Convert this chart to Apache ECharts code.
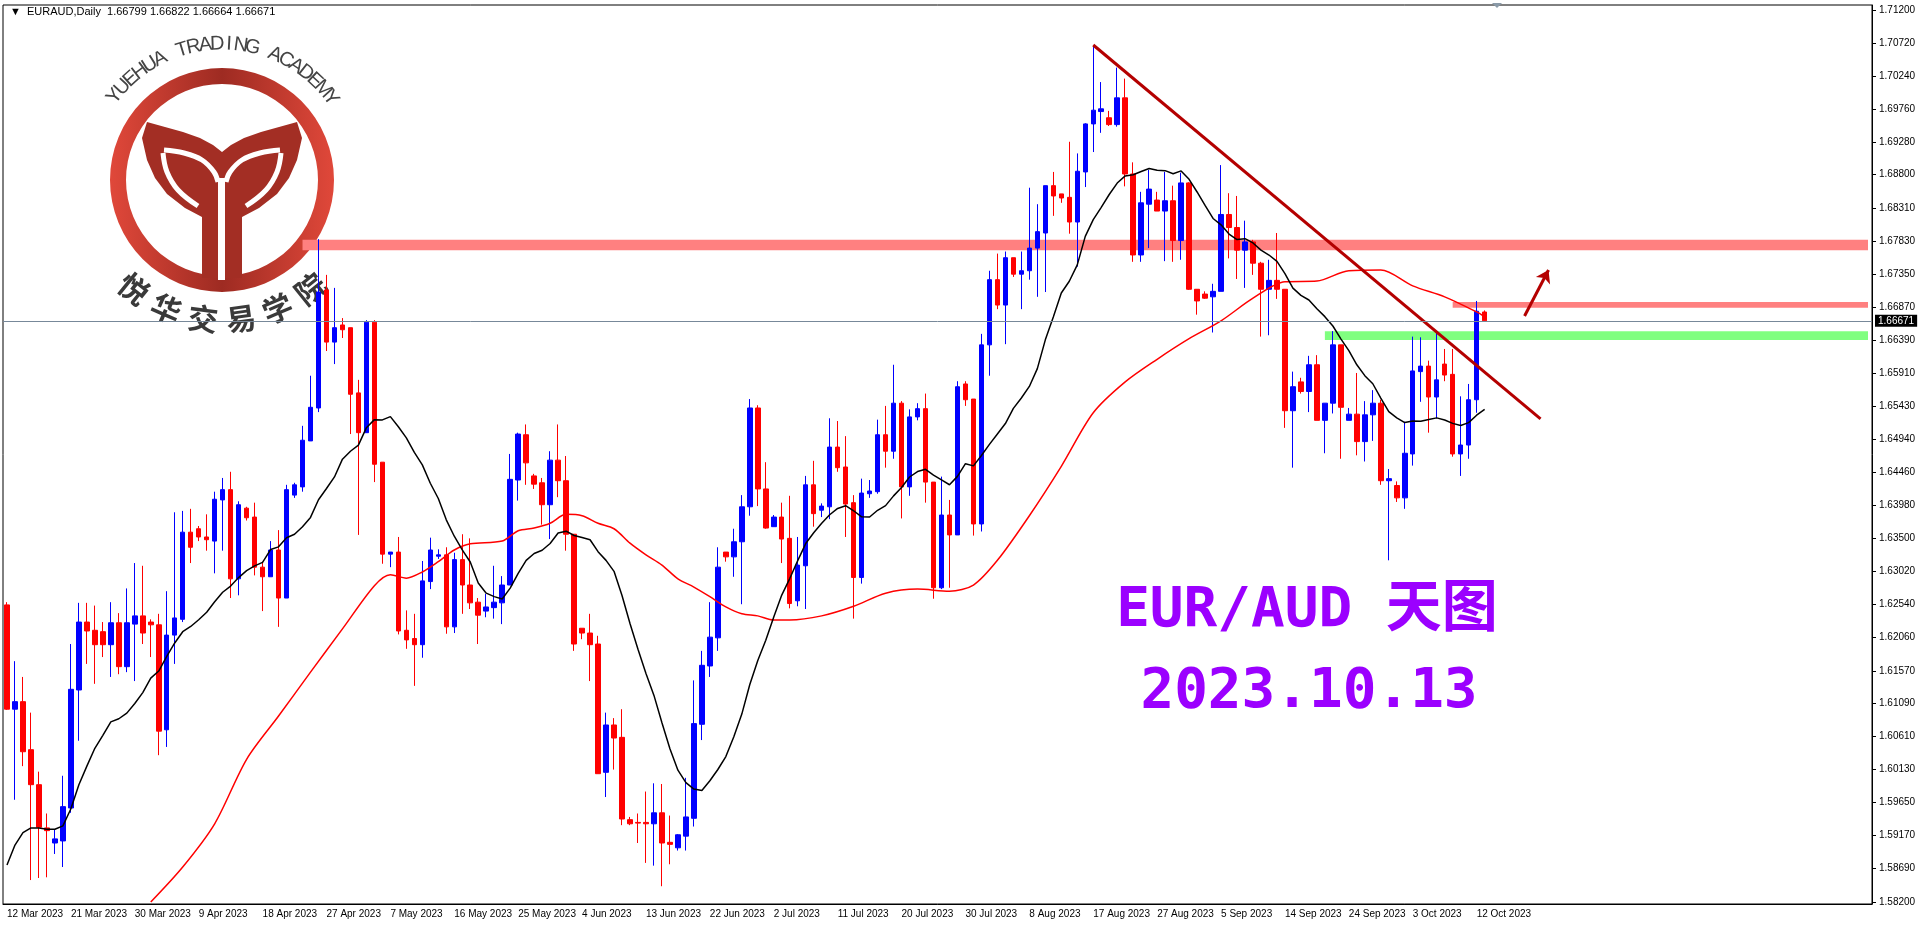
<!DOCTYPE html>
<html>
<head>
<meta charset="utf-8">
<script src="https://cdn.jsdelivr.net/npm/echarts@6/dist/echarts.min.js"></script>
<style>
  html, body { margin: 0; padding: 0; background: #fff; }
  #chart { width: 1920px; height: 927px; }
</style>
</head>
<body>
<div id="chart"></div>
<script>
// ------------------------------
// Data (EURAUD daily)
// ------------------------------
var opens = [1.6253,1.6101,1.6112,1.6042,1.5991,1.5928,1.5906,1.5909,1.5957,1.6129,1.6228,1.6216,1.6214,1.6195,1.6227,1.6163,1.6225,1.6237,1.6228,1.6224,
  1.6071,1.6209,1.6232,1.6359,1.6364,1.6352,1.6346,1.6406,1.6421,1.6291,1.6394,1.6381,1.6308,1.6294,1.6333,1.6263,1.6413,1.6425,1.6492,1.6540,
  1.6712,1.6636,1.6661,1.6657,1.6562,1.6504,1.6665,1.6461,1.6327,1.6330,1.6216,1.6204,1.6195,1.6287,1.6324,1.6326,1.6221,1.6319,1.6282,1.6257,
  1.6244,1.6249,1.6256,1.6282,1.6435,1.6501,1.6441,1.6431,1.6399,1.6464,1.6434,1.6356,1.6219,1.6212,1.6196,1.6009,1.6078,1.6060,1.5940,1.5936,
  1.5936,1.5934,1.5950,1.5907,1.5899,1.5916,1.5942,1.6079,1.6164,1.6205,1.6330,1.6323,1.6345,1.6396,1.6540,1.6422,1.6367,1.6381,1.6350,1.6259,
  1.6310,1.6428,1.6391,1.6396,1.6483,1.6454,1.6402,1.6293,1.6415,1.6418,1.6501,1.6477,1.6547,1.6425,1.6527,1.6539,1.6432,1.6278,1.6384,1.6355,
  1.6575,1.6553,1.6371,1.6632,1.6727,1.6690,1.6759,1.6735,1.6740,1.6773,1.6795,1.6864,1.6852,1.6847,1.6811,1.6884,1.6954,1.6972,1.6963,1.6953,
  1.6992,1.6881,1.6763,1.6837,1.6843,1.6827,1.6842,1.6784,1.6868,1.6713,1.6706,1.6702,1.6710,1.6822,1.6803,1.6770,1.6782,1.6751,1.6713,1.6726,
  1.6713,1.6536,1.6578,1.6564,1.6603,1.6522,1.6547,1.6632,1.6522,1.6531,1.6491,1.6530,1.6547,1.6434,1.6427,1.6409,1.6473,1.6593,1.6601,1.6556,
  1.6604,1.6589,1.6473,1.6486,1.6552,1.66799];
var closes = [1.6101,1.6112,1.6039,1.5991,1.5929,1.5924,1.5912,1.5959,1.6130,1.6228,1.6215,1.6195,1.6195,1.6227,1.6163,1.6227,1.6237,1.6212,1.6224,1.6069,
  1.6209,1.6234,1.6359,1.6337,1.6352,1.6348,1.6407,1.6421,1.6291,1.6399,1.6380,1.6308,1.6294,1.6333,1.6263,1.6421,1.6428,1.6493,1.6541,1.6709,
  1.6636,1.6657,1.6654,1.6560,1.6504,1.6665,1.6458,1.6327,1.6330,1.6215,1.6202,1.6195,1.6288,1.6333,1.6326,1.6221,1.6319,1.6282,1.6256,1.6238,
  1.6250,1.6257,1.6282,1.6436,1.6502,1.6460,1.6429,1.6399,1.6464,1.6434,1.6356,1.6196,1.6212,1.6195,1.6007,1.6078,1.6059,1.5941,1.5934,1.5935,
  1.5934,1.5950,1.5906,1.5904,1.5918,1.5944,1.6080,1.6165,1.6206,1.6308,1.6323,1.6345,1.6396,1.6540,1.6422,1.6365,1.6381,1.6349,1.6255,1.6311,
  1.6428,1.6386,1.6397,1.6483,1.6453,1.6400,1.6293,1.6416,1.6419,1.6501,1.6477,1.6547,1.6425,1.6527,1.6539,1.6432,1.6278,1.6384,1.6355,1.6571,
  1.6552,1.6371,1.6632,1.6727,1.6690,1.6759,1.6735,1.6740,1.6773,1.6797,1.6864,1.6849,1.6846,1.6811,1.6885,1.6954,1.6974,1.6976,1.6953,1.6992,
  1.6881,1.6763,1.6839,1.6859,1.6827,1.6842,1.6784,1.6868,1.6713,1.6696,1.6700,1.6710,1.6822,1.6803,1.6770,1.6782,1.6751,1.6713,1.6726,1.6713,
  1.6536,1.6571,1.6564,1.6603,1.6522,1.6547,1.6632,1.6541,1.6531,1.6491,1.6530,1.6547,1.6434,1.6437,1.6409,1.6474,1.6594,1.6601,1.6556,1.6581,
  1.6588,1.6473,1.6486,1.6552,1.6681,1.66671];
var highs = [1.6257,1.6171,1.6148,1.6096,1.6010,1.5949,1.5925,1.6004,1.6196,1.6256,1.6256,1.6252,1.6228,1.6257,1.6241,1.6277,1.6314,1.6310,1.6232,1.6240,
  1.6273,1.6388,1.6390,1.6393,1.6368,1.6385,1.6418,1.6438,1.6447,1.6404,1.6396,1.6402,1.6316,1.6346,1.6362,1.6428,1.6431,1.6514,1.6587,1.6786,
  1.6734,1.6715,1.6671,1.6657,1.6581,1.6668,1.6668,1.6461,1.6330,1.6352,1.6245,1.6240,1.6317,1.6351,1.6334,1.6337,1.6329,1.6356,1.6350,1.6263,
  1.6269,1.6310,1.6295,1.6473,1.6504,1.6516,1.6444,1.6438,1.6477,1.6516,1.6470,1.6356,1.6219,1.6240,1.6208,1.6096,1.6088,1.6101,1.5944,1.5949,
  1.5981,1.5993,1.5992,1.5946,1.5919,1.6001,1.6143,1.6186,1.6257,1.6337,1.6330,1.6364,1.6413,1.6553,1.6544,1.6461,1.6384,1.6402,1.6412,1.6352,
  1.6441,1.6463,1.6401,1.6525,1.6521,1.6499,1.6413,1.6437,1.6435,1.6523,1.6543,1.6603,1.6550,1.6538,1.6547,1.6561,1.6432,1.6440,1.6406,1.6579,
  1.6579,1.6553,1.6648,1.6740,1.6765,1.6768,1.6759,1.6768,1.6861,1.6837,1.6864,1.6884,1.6852,1.6928,1.6911,1.6955,1.7066,1.7015,1.6973,1.7036,
  1.7020,1.6898,1.6855,1.6887,1.6855,1.6884,1.6864,1.6883,1.6869,1.6713,1.6710,1.6721,1.6894,1.6853,1.6849,1.6813,1.6785,1.6753,1.6756,1.6795,
  1.6713,1.6593,1.6584,1.6616,1.6617,1.6547,1.6652,1.6632,1.6540,1.6591,1.6550,1.6566,1.6552,1.6451,1.6433,1.6520,1.6644,1.6643,1.6609,1.6650,
  1.6626,1.6626,1.6557,1.6575,1.6696,1.66822];
var lows = [1.6100,1.5969,1.6018,1.5852,1.5855,1.5856,1.5890,1.5871,1.5950,1.6055,1.6167,1.6138,1.6177,1.6148,1.6152,1.6155,1.6142,1.6196,1.6177,1.6034,
  1.6046,1.6167,1.6228,1.6314,1.6346,1.6332,1.6299,1.6332,1.6263,1.6267,1.6376,1.6296,1.6244,1.6294,1.6221,1.6263,1.6409,1.6418,1.6492,1.6534,
  1.6623,1.6604,1.6642,1.6502,1.6355,1.6504,1.6432,1.6313,1.6308,1.6210,1.6189,1.6135,1.6176,1.6276,1.6320,1.6211,1.6212,1.6240,1.6247,1.6196,
  1.6235,1.6233,1.6225,1.6282,1.6405,1.6428,1.6422,1.6370,1.6349,1.6410,1.6332,1.6186,1.6203,1.6142,1.6007,1.5973,1.6013,1.5932,1.5932,1.5906,
  1.5877,1.5873,1.5843,1.5875,1.5895,1.5895,1.5930,1.6056,1.6148,1.6186,1.6316,1.6294,1.6254,1.6383,1.6397,1.6364,1.6367,1.6314,1.6248,1.6251,
  1.6247,1.6367,1.6381,1.6378,1.6447,1.6352,1.6233,1.6284,1.6409,1.6415,1.6453,1.6466,1.6379,1.6412,1.6522,1.6402,1.6262,1.6276,1.6278,1.6355,
  1.6543,1.6354,1.6360,1.6587,1.6684,1.6633,1.6731,1.6684,1.6727,1.6702,1.6709,1.6820,1.6839,1.6794,1.6746,1.6862,1.6913,1.6941,1.6951,1.6950,
  1.6863,1.6753,1.6753,1.6773,1.6827,1.6754,1.6753,1.6756,1.6712,1.6676,1.6699,1.6650,1.6710,1.6758,1.6728,1.6715,1.6734,1.6644,1.6646,1.6699,
  1.6511,1.6453,1.6561,1.6534,1.6522,1.6474,1.6532,1.6466,1.6522,1.6471,1.6462,1.6492,1.6428,1.6318,1.6403,1.6393,1.6456,1.6549,1.6504,1.6525,
  1.6579,1.6469,1.6441,1.6466,1.6533,1.66664];

// slow average (red), read at sampled bars
var redIdx = [18,22,26,30,34,38,42,46,48,50,52,54,56,58,62,64,66,68,70,72,74,76,78,80,82,84,86,88,90,92,94,96,98,102,106,110,114,118,121,124,128,132,136,140,144,148,152,156,160,164,168,172,176,180,184,185];
var redVal = [1.5820,1.5871,1.5934,1.6028,1.6091,1.6155,1.6218,1.6281,1.6297,1.6292,1.6301,1.6316,1.6333,1.6342,1.6346,1.6361,1.6365,1.6372,1.6385,1.6383,
  1.6372,1.6364,1.6343,1.6326,1.6311,1.6291,1.6279,1.6265,1.6250,1.6240,1.6237,1.6231,1.6231,1.6237,1.6251,1.6270,1.6276,1.6273,1.6282,1.6318,
  1.6383,1.6455,1.6533,1.6578,1.6611,1.6641,1.6667,1.6700,1.6724,1.6725,1.6740,1.6741,1.6718,1.6702,1.6680,1.6673];
var blackEarly = [1.5874,1.5903,1.5921,1.5928,1.5928,1.5926,1.5926,1.5931,1.5956,1.5991,1.6018,1.6044,1.6063];
var fastPeriod = 14;

var yTicks = ['1.71200','1.70720','1.70240','1.69760','1.69280','1.68800','1.68310','1.67830','1.67350','1.66870','1.66390','1.65910','1.65430','1.64940',
  '1.64460','1.63980','1.63500','1.63020','1.62540','1.62060','1.61570','1.61090','1.60610','1.60130','1.59650','1.59170','1.58690','1.58200'];

var resistHigh = [1.6785, 1.6770];
var resistLow = [1.66945, 1.6686];
var supportZone = [1.6652, 1.6639];
var lastPrice = 1.66671;
var trendIdx = [136, 192];
var trendVal = [1.7069, 1.6524];
var arrowIdx = [189.5, 193.2];
var arrowVal = [1.6674, 1.6741];

// ------------------------------
// Build categories (daily bars, no Saturdays)
// ------------------------------
var months = ['Jan','Feb','Mar','Apr','May','Jun','Jul','Aug','Sep','Oct','Nov','Dec'];
var cats = [];
var d = new Date(Date.UTC(2023, 2, 12));
while (cats.length < opens.length) {
    if (d.getUTCDay() !== 6) cats.push(d.getUTCDate() + ' ' + months[d.getUTCMonth()] + ' ' + d.getUTCFullYear());
    d.setUTCDate(d.getUTCDate() + 1);
}
var totalSlots = 234;
for (var e = 0; cats.length < totalSlots; e++) cats.push(' '.repeat(e + 1));

var candles = opens.map(function (o, i) { return [o, closes[i], lows[i], highs[i]]; });
var fast = closes.map(function (c, i) {
    if (i < blackEarly.length) return blackEarly[i];
    var s = 0;
    for (var k = i - fastPeriod + 1; k <= i; k++) s += closes[k];
    return +(s / fastPeriod).toFixed(5);
});
var slow = redIdx.map(function (ix, k) { return [ix, redVal[k]]; });
var lastCat = totalSlots - 1;

// ------------------------------
// Logo pieces
// ------------------------------
var cx = 222, cy = 180;
var logo = [];
var ringFill = new echarts.graphic.LinearGradient(0, 0, 1, 0, [
    { offset: 0, color: '#e0483a' }, { offset: 0.5, color: '#9e2b22' }, { offset: 1, color: '#e0483a' }]);
logo.push({ type: 'ring', shape: { cx: cx, cy: cy, r: 112, r0: 96 }, style: { fill: ringFill }, z: 0 });
function mirror(pts) { return pts.map(function (p) { return [444 - p[0], p[1]]; }); }
var wing = [[147,122],[165,127],[183,132],[200,138],[213,145],[222,152],[222,278],[202,278],[202,217],[185,208],[167,194],[155,178],[147,160],[142,138]];
[wing, mirror(wing)].forEach(function (p) {
    logo.push({ type: 'polygon', shape: { points: p }, style: { fill: '#a32e24' }, z: 0 });
});
var gapTop = [[164,150],[184,153],[202,160],[214,172],[218,182]];
var gapSide = [[163,153],[167,172],[178,190],[198,206]];
[gapTop, mirror(gapTop), gapSide, mirror(gapSide)].forEach(function (p) {
    logo.push({ type: 'polyline', shape: { points: p, smooth: 0.4 }, style: { stroke: '#fff', lineWidth: 5, fill: null }, z: 0 });
});
logo.push({ type: 'rect', shape: { x: 218, y: 178, width: 7, height: 102 }, style: { fill: '#fff' }, z: 0 });

var topText = 'YUEHUA TRADING ACADEMY';
for (var t = 0; t < topText.length; t++) {
    var a = -142 + t * (105 / (topText.length - 1));
    var rad = a * Math.PI / 180;
    logo.push({ type: 'text', x: cx + 136 * Math.cos(rad), y: cy + 136 * Math.sin(rad),
        rotation: -(a + 90) * Math.PI / 180, z: 0,
        style: { text: topText[t], fill: '#444', font: '20px "Liberation Sans"', align: 'center', verticalAlign: 'middle' } });
}
var botText = '悦华交易学院';
for (var b = 0; b < botText.length; b++) {
    var a2 = 129 - b * (78 / (botText.length - 1));
    var rad2 = a2 * Math.PI / 180;
    logo.push({ type: 'text', x: cx + 140 * Math.cos(rad2), y: cy + 140 * Math.sin(rad2),
        rotation: (90 - a2) * Math.PI / 180, z: 0,
        style: { text: botText[b], fill: '#3a3a3a', font: 'bold 30px "Noto Sans CJK SC"', align: 'center', verticalAlign: 'middle' } });
}

var myChart = echarts.init(document.getElementById('chart'));

var option = {
    animation: false,
    backgroundColor: '#fff',
    grid: { left: 3, right: 48, top: 5, bottom: 23, show: true, borderColor: '#000', borderWidth: 1 },
    xAxis: {
        type: 'category',
        data: cats,
        boundaryGap: true,
        axisLine: { lineStyle: { color: '#000' } },
        axisTick: { interval: 7, length: 3, lineStyle: { color: '#000' } },
        axisLabel: { interval: 7, align: 'left', margin: 5, color: '#000', fontSize: 10, fontFamily: 'Liberation Sans' },
        splitLine: { show: false }
    },
    yAxis: {
        type: 'value',
        position: 'right',
        min: 1.58171,
        max: 1.71273,
        axisLine: { show: true, lineStyle: { color: '#000' } },
        axisTick: { show: true, length: 4, customValues: yTicks.map(Number), lineStyle: { color: '#000' } },
        axisLabel: { customValues: yTicks.map(Number), margin: 7, color: '#000', fontSize: 10, fontFamily: 'Liberation Sans',
            formatter: function (v) { return v.toFixed(5); } },
        splitLine: { show: false }
    },
    graphic: logo.concat([
        { type: 'text', x: 10, y: 6, z: 10, style: { text: '▼  EURAUD,Daily  1.66799 1.66822 1.66664 1.66671', fill: '#000', font: '11px "Liberation Sans"' } },
        { type: 'polygon', shape: { points: [[1492, 3], [1502, 3], [1497, 8]] }, style: { fill: '#8a9aa8' }, z: 10 },
        { type: 'text', x: 1307, y: 611, z: 10, style: { text: 'EUR/AUD 天图', fill: '#9b00ff', font: 'bold 56px "DejaVu Sans Mono", "Noto Sans CJK SC"', align: 'center', verticalAlign: 'middle' } },
        { type: 'text', x: 1309, y: 692, z: 10, style: { text: '2023.10.13', fill: '#9b00ff', font: 'bold 56px "DejaVu Sans Mono"', align: 'center', verticalAlign: 'middle' } }
    ]),
    series: [
        {
            type: 'candlestick',
            data: candles,
            barWidth: 5,
            itemStyle: { color: '#0000ff', color0: '#ff0000', borderColor: '#0000ff', borderColor0: '#ff0000', borderWidth: 1 },
            markArea: {
                silent: true,
                data: [
                    [{ xAxis: 37, yAxis: resistHigh[0], itemStyle: { color: '#ff8080' } }, { xAxis: lastCat, yAxis: resistHigh[1] }],
                    [{ xAxis: 181, yAxis: resistLow[0], itemStyle: { color: '#ff8080' } }, { xAxis: lastCat, yAxis: resistLow[1] }],
                    [{ xAxis: 165, yAxis: supportZone[0], itemStyle: { color: '#80ff80' } }, { xAxis: lastCat, yAxis: supportZone[1] }]
                ]
            }
        },
        {
            type: 'line', data: slow, showSymbol: false, smooth: 0.3, z: 3,
            lineStyle: { color: '#ff0000', width: 1.5 }
        },
        {
            type: 'line', data: fast, showSymbol: false, z: 3,
            lineStyle: { color: '#000000', width: 1.5 },
            markLine: {
                silent: true,
                symbol: 'none',
                precision: 5,
                lineStyle: { color: '#778899', width: 1, type: 'solid' },
                label: { position: 'end', distance: 3, formatter: lastPrice.toFixed(5), color: '#fff', backgroundColor: '#000',
                    padding: [1, 3], fontSize: 10, fontFamily: 'Liberation Sans' },
                data: [{ yAxis: lastPrice }]
            }
        },
        {
            type: 'line', data: [[trendIdx[0], trendVal[0]], [trendIdx[1], trendVal[1]]], showSymbol: false, z: 4,
            lineStyle: { color: '#b40000', width: 3 },
            markLine: {
                silent: true,
                symbol: ['none', 'arrow'], symbolSize: 12,
                precision: 5,
                lineStyle: { color: '#b40000', width: 3, type: 'solid' },
                label: { show: false },
                data: [[{ coord: [arrowIdx[0], arrowVal[0]] }, { coord: [arrowIdx[1], arrowVal[1]] }]]
            }
        }
    ]
};
myChart.setOption(option);
</script>
</body>
</html>
